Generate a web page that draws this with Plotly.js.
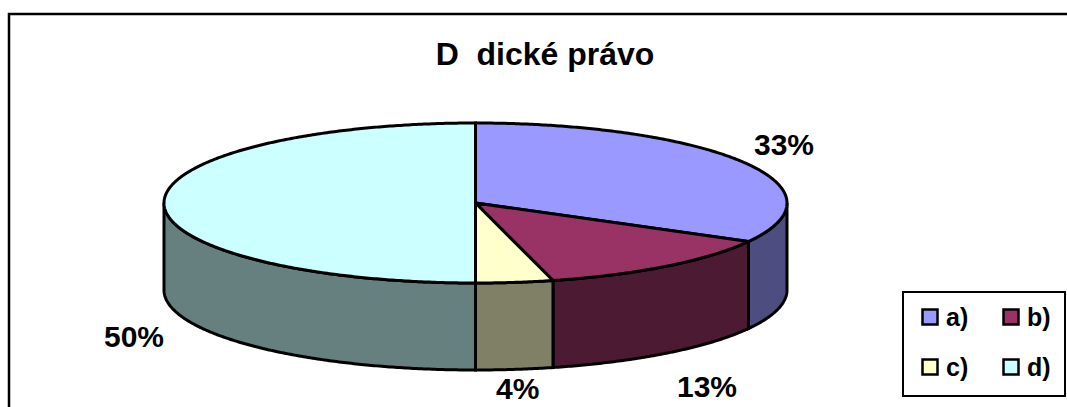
<!DOCTYPE html>
<html>
<head>
<meta charset="utf-8">
<script src="https://cdn.plot.ly/plotly-3.0.1.min.js"></script>
<style>html,body{margin:0;padding:0;background:#fff;overflow:hidden}#chart{width:1067px;height:407px}</style>
</head>
<body>
<div id="chart"></div>
<script>
// Data
var titleText = 'D  dické právo';
var categories = ['a)', 'b)', 'c)', 'd)'];
var values = [33, 13, 4, 50];

// Styles
var topColors = ['#9999FF', '#993366', '#FFFFCC', '#CCFFFF'];
var sideColors = ['#4D4D80', '#4D1A33', '#808066', '#668080'];
var FONT = '"Liberation Sans", Arial, sans-serif';

// Pie geometry (pixel space of the hidden axes)
var W = 1067, H = 407;
var cx = 475.5, cy = 203, rx = 311.5, ry = 80, depth = 87;
var lw = 3;

function px(t) { return cx + rx * Math.sin(t * Math.PI / 180); }
function py(t, d) { return cy - ry * Math.cos(t * Math.PI / 180) + (d || 0); }
function arc(a, b, d) {
  var pts = [], n = Math.max(2, Math.ceil(Math.abs(b - a) * 2));
  for (var i = 0; i <= n; i++) {
    var t = a + (b - a) * i / n;
    pts.push([px(t), py(t, d)]);
  }
  return pts;
}
function poly(pts, fill, name) {
  var xs = pts.map(function (p) { return p[0]; });
  var ys = pts.map(function (p) { return p[1]; });
  xs.push(xs[0]); ys.push(ys[0]);
  return {
    type: 'scatter', mode: 'lines', x: xs, y: ys, fill: 'toself', fillcolor: fill,
    line: { color: '#000', width: lw, simplify: false }, name: name,
    hoverinfo: 'name', showlegend: false
  };
}

var total = values.reduce(function (s, v) { return s + v; }, 0);
var angles = [0];
values.forEach(function (v, i) { angles.push(angles[i] + v / total * 360); });

var traces = [];
// Front walls: only the part of each slice between 90 and 270 degrees shows
categories.forEach(function (c, i) {
  var a = Math.max(angles[i], 90), b = Math.min(angles[i + 1], 270);
  if (b > a) traces.push(poly(arc(a, b, 0).concat(arc(b, a, depth)), sideColors[i], c));
});
// Top faces
categories.forEach(function (c, i) {
  traces.push(poly([[cx, cy]].concat(arc(angles[i], angles[i + 1], 0)), topColors[i], c));
});

// Legend swatches
var legendX = [930, 1011, 930, 1011];
var legendY = [317, 317, 367, 367];
categories.forEach(function (c, i) {
  traces.push({
    type: 'scatter', mode: 'markers', x: [legendX[i]], y: [legendY[i]],
    marker: { symbol: 'square', size: 15, color: topColors[i], line: { color: '#000', width: 2.5 } },
    name: c, hoverinfo: 'name', showlegend: false
  });
});

// Percent labels: offset from the middle of each slice's rim
var labelDx = [40, 41, 3, -30];
var labelDy = [-18, 120, 106, 133];
var annotations = categories.map(function (c, i) {
  var mid = (angles[i] + angles[i + 1]) / 2;
  return {
    xref: 'x', yref: 'y', x: px(mid) + labelDx[i], y: py(mid) + labelDy[i],
    text: '<b>' + Math.round(values[i] / total * 100) + '%</b>', showarrow: false,
    xanchor: 'center', yanchor: 'middle',
    font: { family: FONT, size: 30, color: '#000' }
  };
});
// Legend labels
categories.forEach(function (c, i) {
  annotations.push({
    xref: 'x', yref: 'y', x: legendX[i] + 14, y: legendY[i], text: '<b>' + c + '</b>',
    showarrow: false, xanchor: 'left', yanchor: 'middle',
    font: { family: FONT, size: 25, color: '#000' }
  });
});

var layout = {
  width: W, height: H, margin: { l: 0, r: 0, t: 0, b: 0 },
  paper_bgcolor: '#fff', plot_bgcolor: '#fff', showlegend: false,
  title: {
    text: '<b>' + titleText + '</b>', x: 545 / W, xanchor: 'center', y: 1 - 54 / H, yanchor: 'middle',
    font: { family: FONT, size: 32, color: '#000' }
  },
  xaxis: { range: [0, W], visible: false, fixedrange: true },
  yaxis: { range: [H, 0], visible: false, fixedrange: true },
  annotations: annotations,
  shapes: [
    { type: 'rect', xref: 'x', yref: 'y', x0: 9, y0: 14, x1: W + 20, y1: H + 20, line: { color: '#000', width: 2.5 }, layer: 'below' },
    { type: 'rect', xref: 'x', yref: 'y', x0: 903, y0: 292, x1: 1065, y1: 396, fillcolor: '#fff', line: { color: '#000', width: 2 }, layer: 'below' }
  ]
};
Plotly.newPlot('chart', traces, layout, { displayModeBar: false, staticPlot: true });
</script>
</body>
</html>
